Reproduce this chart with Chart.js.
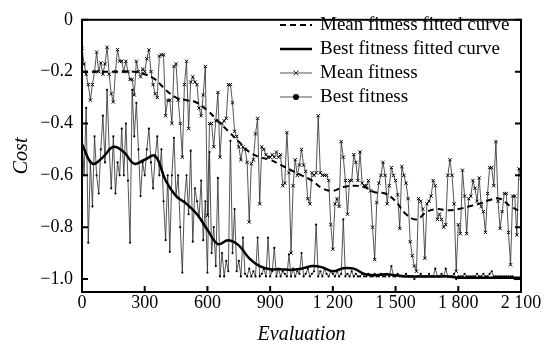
<!DOCTYPE html>
<html>
<head>
<meta charset="utf-8">
<script src="https://cdn.jsdelivr.net/npm/chart.js@4.4.1/dist/chart.umd.min.js"></script>
<style>
  html, body { margin: 0; padding: 0; background: #fff; }
  #wrap { width: 551px; height: 347px; position: relative; }
</style>
</head>
<body>
<div id="wrap"><canvas id="chart"></canvas></div>
<script>
// evaluation step of the raw series and of the fitted curves
const EVAL_STEP = 10;
const FIT_STEP = 50;

// mean fitness per evaluation (x markers), one row = 100 evaluations
const MEAN_FITNESS = [
    -0.11, -0.17, -0.21, -0.25, -0.31, -0.25, -0.2, -0.125, -0.2, -0.166,
    -0.21, -0.17, -0.106, -0.21, -0.285, -0.317, -0.2, -0.115, -0.16, -0.16,
    -0.2, -0.16, -0.2, -0.23, -0.23, -0.29, -0.16, -0.2, -0.22, -0.19,
    -0.2, -0.15, -0.116, -0.2, -0.25, -0.285, -0.3, -0.14, -0.135, -0.135,
    -0.37, -0.31, -0.31, -0.4, -0.18, -0.17, -0.31, -0.4, -0.53, -0.25,
    -0.16, -0.42, -0.24, -0.22, -0.24, -0.25, -0.34, -0.37, -0.29, -0.18,
    -0.755, -0.4, -0.4, -0.49, -0.39, -0.28, -0.53, -0.4, -0.39, -0.38,
    -0.25, -0.25, -0.32, -0.43, -0.45, -0.49, -0.54, -0.49, -0.5, -0.55,
    -0.78, -0.555, -0.54, -0.44, -0.38, -0.71, -0.49, -0.5, -0.52, -0.53,
    -0.53, -0.52, -0.53, -0.51, -0.53, -0.52, -0.64, -0.63, -0.435, -0.59,
    -0.9, -0.64, -0.54, -0.6, -0.56, -0.5, -0.56, -0.585, -0.69, -0.71,
    -0.59, -0.6, -0.59, -0.37, -0.59, -0.6, -0.6, -0.6, -0.62, -0.79,
    -0.885, -0.71, -0.69, -0.72, -0.47, -0.53, -0.62, -0.75, -0.62, -0.62,
    -0.52, -0.55, -0.62, -0.51, -0.63, -0.64, -0.64, -0.62, -0.66, -0.8,
    -0.925, -0.705, -0.63, -0.6, -0.55, -0.6, -0.71, -0.64, -0.57, -0.6,
    -0.62, -0.675, -0.805, -0.566, -0.6, -0.63, -0.69, -0.856, -0.91, -0.95,
    -0.97, -0.69, -0.7, -0.73, -0.92, -0.71, -0.7, -0.68, -0.62, -0.64,
    -0.77, -0.75, -0.77, -0.8, -0.79, -0.6, -0.54, -0.6, -0.71, -0.97,
    -0.79, -0.825, -0.58, -0.68, -0.825, -0.69, -0.68, -0.62, -0.65, -0.7,
    -0.61, -0.72, -0.74, -0.82, -0.67, -0.57, -0.57, -0.64, -0.47, -0.7,
    -0.805, -0.74, -0.67, -0.67, -0.82, -0.945, -0.68, -0.68, -0.83, -0.575,
    -0.61
];

// best fitness per evaluation (dots)
const BEST_FITNESS = [
    -0.45, -0.6, -0.34, -0.86, -0.55, -0.72, -0.45, -0.6, -0.67, -0.5,
    -0.37, -0.55, -0.27, -0.5, -0.65, -0.45, -0.67, -0.55, -0.6, -0.42,
    -0.6, -0.4, -0.62, -0.86, -0.27, -0.45, -0.32, -0.5, -0.68, -0.55,
    -0.6, -0.5, -0.42, -0.55, -0.65, -0.53, -0.45, -0.6, -0.5, -0.7,
    -0.85, -0.6, -0.895, -0.6, -0.455, -0.68, -0.6, -0.8, -0.975, -0.7,
    -0.6, -0.75, -0.505, -0.856, -0.65, -0.7, -0.76, -0.62, -0.85, -0.7,
    -0.975, -0.51, -0.9, -0.8, -0.95, -0.61, -0.99, -0.9, -0.99, -0.93,
    -0.97, -0.467, -0.9, -0.73, -0.97, -0.93, -0.99, -0.84, -0.98, -0.99,
    -0.96, -0.99, -0.97, -0.99, -0.84, -0.99, -0.98, -0.96, -0.99, -0.84,
    -0.99, -0.97, -0.88, -0.99, -0.96, -0.99, -0.97, -0.98, -0.99, -0.905,
    -0.99, -0.96, -0.99, -0.97, -0.98, -0.9, -0.99, -0.98, -0.96, -0.99,
    -0.98, -0.97, -0.79, -0.99, -0.97, -0.99, -0.96, -0.98, -0.99, -0.97,
    -0.98, -0.99, -0.97, -0.99, -0.98, -0.77, -0.99, -0.98, -0.99, -0.97,
    -0.99, -0.98, -0.99, -0.99, -0.98, -0.99, -0.99, -0.98, -0.99, -0.99,
    -0.98, -0.99, -0.99, -0.98, -0.99, -0.99, -0.98, -0.99, -0.95, -0.99,
    -0.99, -0.98, -0.99, -0.99, -0.99, -0.98, -0.99, -0.99, -0.99, -1.0,
    -0.99, -0.99, -0.98, -0.99, -0.99, -0.99, -0.98, -0.99, -0.99, -0.96,
    -0.99, -0.99, -0.98, -0.99, -0.96, -0.99, -0.99, -0.99, -0.98, -1.0,
    -0.99, -0.99, -0.99, -0.98, -0.99, -0.99, -0.99, -0.99, -0.99, -0.98,
    -0.99, -0.99, -0.98, -0.99, -0.99, -0.98, -0.97, -0.99, -0.99, -0.99,
    -0.99, -0.99, -0.99, -0.99, -0.99, -0.99, -0.99, -1.0, -1.0, -1.0,
    -1.0
];

// fitted curves, one value every FIT_STEP evaluations
const MEAN_FIT_CURVE = [
    -0.2, -0.2, -0.2, -0.2, -0.2, -0.2, -0.21, -0.23, -0.27, -0.3,
    -0.31, -0.32, -0.35, -0.39, -0.43, -0.47, -0.51, -0.53, -0.54, -0.56,
    -0.58, -0.6, -0.62, -0.65, -0.66, -0.645, -0.64, -0.645, -0.665, -0.67,
    -0.7, -0.75, -0.77, -0.74, -0.73, -0.735, -0.73, -0.72, -0.71, -0.695,
    -0.69, -0.72, -0.74
];
const BEST_FIT_CURVE = [
    -0.48, -0.555, -0.53, -0.49, -0.51, -0.555, -0.54, -0.525, -0.62, -0.68,
    -0.71, -0.75, -0.81, -0.865, -0.85, -0.87, -0.92, -0.95, -0.962, -0.962,
    -0.965, -0.96, -0.95, -0.955, -0.97, -0.958, -0.96, -0.98, -0.985, -0.982,
    -0.985, -0.99, -0.99, -0.99, -0.99, -0.99, -0.995, -0.995, -0.995, -0.995,
    -0.995, -0.995, -0.995
];

const SERIES_NAMES = ['Mean fitness fitted curve', 'Best fitness fitted curve', 'Mean fitness', 'Best fitness'];

const X_TICKS = [0, 300, 600, 900, 1200, 1500, 1800, 2100];
const X_TICK_LABELS = ['0', '300', '600', '900', '1 200', '1 500', '1 800', '2 100'];
const Y_TICKS = [-1.0, -0.8, -0.6, -0.4, -0.2, 0];
const Y_TICK_LABELS = ['\u22121.0', '\u22120.8', '\u22120.6', '\u22120.4', '\u22120.2', '0'];

const FONT = 'Liberation Serif';

const toPoints = (values, step) => values.map((v, i) => ({ x: i * step, y: v }));

// frame, inward ticks and the legend inside the plot
const framePlugin = {
    id: 'frame',
    afterDraw(chart) {
        const { ctx, chartArea: a, scales: { x, y } } = chart;
        ctx.save();
        ctx.strokeStyle = '#000';
        ctx.lineWidth = 2;
        ctx.strokeRect(a.left, a.top, a.right - a.left, a.bottom - a.top);

        ctx.beginPath();
        X_TICKS.forEach(v => {
            const px = x.getPixelForValue(v);
            ctx.moveTo(px, a.bottom);
            ctx.lineTo(px, a.bottom - 6);
        });
        Y_TICKS.forEach(v => {
            const py = y.getPixelForValue(v);
            ctx.moveTo(a.left, py);
            ctx.lineTo(a.left + 6, py);
            ctx.moveTo(a.right, py);
            ctx.lineTo(a.right - 6, py);
        });
        ctx.stroke();

        // legend
        const x0 = 280, x1 = 312, tx = 320;
        const rows = [25, 49, 73, 97];
        ctx.font = '19px "' + FONT + '"';
        ctx.textBaseline = 'middle';
        ctx.fillStyle = '#000';
        chart.data.datasets.forEach((ds, i) => {
            const ry = rows[i];
            ctx.strokeStyle = ds.borderColor;
            ctx.lineWidth = ds.borderWidth;
            ctx.setLineDash(ds.borderDash || []);
            ctx.beginPath();
            ctx.moveTo(x0, ry);
            ctx.lineTo(x1, ry);
            ctx.stroke();
            ctx.setLineDash([]);
            const mx = (x0 + x1) / 2;
            if (ds.pointStyle === 'crossRot') {
                ctx.lineWidth = 1;
                ctx.beginPath();
                ctx.moveTo(mx - 2.5, ry - 2.5); ctx.lineTo(mx + 2.5, ry + 2.5);
                ctx.moveTo(mx - 2.5, ry + 2.5); ctx.lineTo(mx + 2.5, ry - 2.5);
                ctx.stroke();
            } else if (ds.pointRadius > 0) {
                ctx.beginPath();
                ctx.arc(mx, ry, 3, 0, Math.PI * 2);
                ctx.fill();
            }
            ctx.fillText(SERIES_NAMES[i], tx, ry);
        });
        ctx.restore();
    }
};

new Chart(document.getElementById('chart'), {
    type: 'line',
    data: {
        datasets: [
            {
                label: SERIES_NAMES[0],
                data: toPoints(MEAN_FIT_CURVE, FIT_STEP),
                borderColor: '#000',
                borderWidth: 2,
                borderDash: [6, 4],
                pointRadius: 0,
                tension: 0.4
            },
            {
                label: SERIES_NAMES[1],
                data: toPoints(BEST_FIT_CURVE, FIT_STEP),
                borderColor: '#000',
                borderWidth: 2.5,
                pointRadius: 0,
                tension: 0.4
            },
            {
                label: SERIES_NAMES[2],
                data: toPoints(MEAN_FITNESS, EVAL_STEP),
                borderColor: '#2a2a2a',
                borderWidth: 0.8,
                pointStyle: 'crossRot',
                pointRadius: 2.3,
                pointBorderWidth: 1,
                pointBorderColor: '#000',
                tension: 0
            },
            {
                label: SERIES_NAMES[3],
                data: toPoints(BEST_FITNESS, EVAL_STEP),
                borderColor: '#2a2a2a',
                borderWidth: 0.8,
                pointStyle: 'circle',
                pointRadius: 1.1,
                pointBorderWidth: 0,
                pointBackgroundColor: '#000',
                tension: 0
            }
        ]
    },
    options: {
        responsive: true,
        maintainAspectRatio: false,
        animation: false,
        layout: { padding: { top: 12, right: 30, left: 0, bottom: 0 } },
        plugins: {
            legend: { display: false },
            tooltip: { enabled: false }
        },
        scales: {
            x: {
                type: 'linear',
                min: 0,
                max: 2100,
                afterBuildTicks: s => { s.ticks = X_TICKS.map(v => ({ value: v })); },
                afterFit: s => { s.height = 55; },
                grid: { display: false, drawTicks: false },
                border: { display: false },
                ticks: {
                    callback: (v, i) => X_TICK_LABELS[i],
                    font: { family: FONT, size: 18 },
                    color: '#000',
                    padding: 0,
                    maxRotation: 0,
                    autoSkip: false
                },
                title: {
                    display: true,
                    text: 'Evaluation',
                    font: { family: FONT, size: 20, style: 'italic' },
                    color: '#000',
                    padding: { top: 0, bottom: 0 }
                }
            },
            y: {
                type: 'linear',
                min: -1.05,
                max: 0,
                afterBuildTicks: s => { s.ticks = Y_TICKS.map(v => ({ value: v })); },
                afterFit: s => { s.width = 82; },
                grid: { display: false, drawTicks: false },
                border: { display: false },
                ticks: {
                    callback: (v, i) => Y_TICK_LABELS[i],
                    font: { family: FONT, size: 18 },
                    color: '#000',
                    padding: 9
                },
                title: {
                    display: true,
                    text: 'Cost',
                    font: { family: FONT, size: 20, style: 'italic' },
                    color: '#000',
                    padding: { top: 10, bottom: 0 }
                }
            }
        }
    },
    plugins: [framePlugin]
});
</script>
</body>
</html>
